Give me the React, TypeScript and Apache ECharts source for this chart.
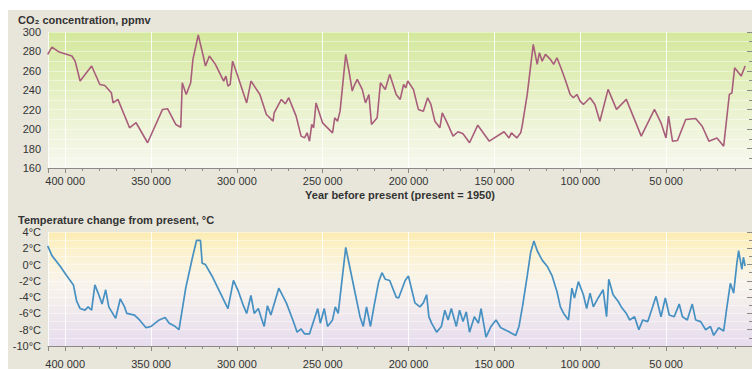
import React, { useEffect, useRef } from "react";
import * as echarts from "echarts";

// Vostok ice-core record, ages in thousands of years before present (present = 1950)
const co2Ka = [
  410.2, 407.7, 403.9, 396.1, 394.2, 391.3, 384.6, 379.8, 376.9, 373.1, 372.1, 369.3,
  362.5, 358.7, 352.0, 343.3, 340.4, 335.6, 332.7, 331.8, 329.5, 326.9, 325.6, 322.5,
  319.8, 318.3, 316.0, 312.5, 307.7, 306.4, 305.2, 303.9, 302.5, 299.5, 294.3, 291.8,
  286.6, 282.8, 278.9, 278.3, 274.1, 271.8, 269.8, 265.5, 262.6, 260.6, 259.1, 257.7,
  256.4, 255.3, 253.9, 250.1, 244.3, 243.0, 241.4, 239.9, 236.6, 234.7, 232.8, 231.8,
  229.9, 227.0, 225.1, 223.1, 221.6, 218.3, 216.4, 213.6, 211.0, 207.2, 204.9, 202.9,
  201.6, 200.5, 197.2, 194.3, 191.4, 188.9, 187.0, 184.7, 181.8, 180.4, 178.0, 174.1,
  171.2, 168.3, 164.5, 159.7, 153.0, 144.4, 141.5, 140.1, 137.0, 134.7, 133.7, 130.9,
  127.4, 125.1, 123.8, 122.2, 120.3, 117.4, 115.5, 113.6, 111.3, 108.8, 105.9, 104.0,
  102.0, 100.1, 98.2, 94.3, 91.5, 88.6, 83.8, 78.9, 73.2, 64.5, 56.8, 53.0,
  50.1, 48.6, 46.3, 43.4, 38.6, 32.8, 29.0, 25.1, 20.4, 16.5, 13.2, 11.7,
  10.1, 6.3, 4.0,
];
const co2Ppmv = [
  277, 284.5, 279.7, 275.3, 270, 249.5, 265, 246, 245, 237.5, 227, 230.6,
  201.4, 206.6, 186, 220.3, 221, 204.8, 202, 247.8, 235.7, 247.8, 271.8, 296.9,
  277, 265, 275.3, 266.7, 249.5, 254.6, 244.3, 246, 270, 254.6, 227, 249.5,
  235.7, 215.1, 208.2, 216.8, 230.6, 226.1, 232.3, 213.4, 192.8, 191, 196.2, 187.6,
  204.8, 201.4, 227, 206.5, 196.2, 211.7, 208.2, 218.5, 277, 259.8, 239.2, 244.3,
  251.2, 240.9, 227, 235.7, 204.8, 211.7, 247.8, 240.9, 256.4, 235.7, 230.6, 246,
  242.6, 249.5, 240.9, 220.3, 218.5, 232.3, 225.4, 208.2, 201.4, 216.8, 208.2, 192.8,
  197.3, 195.2, 186, 204.1, 187.6, 197.3, 191, 196.2, 191, 196.2, 204.8, 235.7,
  287.2, 266.7, 278.7, 270, 277, 271.8, 266.7, 273.5, 263.2, 251.2, 235.7, 232.3,
  235.7, 228.8, 225.4, 232.3, 225.4, 208.2, 240.9, 220.3, 230.6, 192.8, 220.3, 206.5,
  191, 213.4, 187.6, 188.3, 210, 211, 203, 187.6, 191, 182.5, 235.7, 237.4,
  263.2, 254.6, 265,
];

const tempKa = [
  410.2, 407.7, 402.9, 399.0, 395.2, 393.3, 391.3, 388.5, 386.6, 384.6, 382.7, 380.8,
  378.5, 376.4, 374.6, 370.6, 367.9, 365.4, 364.1, 359.6, 356.7, 352.9, 350.0, 345.2,
  341.8, 339.4, 336.6, 333.7, 329.8, 326.0, 323.5, 321.2, 320.2, 318.3, 314.5, 309.6,
  305.2, 302.0, 299.1, 296.2, 294.3, 291.8, 289.9, 287.5, 286.0, 284.1, 282.2, 280.2,
  275.6, 271.2, 267.4, 264.9, 262.6, 260.6, 257.7, 252.9, 251.4, 249.1, 247.2, 244.3,
  242.7, 241.0, 236.6, 232.8, 228.3, 226.4, 224.5, 222.2, 219.9, 217.4, 215.5, 213.6,
  211.0, 207.2, 205.8, 202.0, 200.1, 196.3, 193.4, 191.4, 189.5, 188.2, 186.6, 183.7,
  180.9, 178.9, 177.0, 175.1, 172.2, 170.3, 168.3, 166.4, 164.5, 161.7, 159.3, 157.8,
  154.9, 152.0, 149.1, 146.3, 142.4, 137.6, 135.7, 133.7, 130.9, 128.9, 127.0, 125.1,
  122.2, 119.3, 116.4, 113.6, 111.6, 109.7, 106.9, 104.9, 103.4, 101.1, 98.2, 96.3,
  94.3, 92.4, 89.6, 86.7, 84.7, 83.4, 80.9, 78.0, 76.1, 73.2, 71.3, 68.4,
  65.9, 63.6, 60.7, 57.9, 55.9, 53.0, 50.5, 48.2, 45.3, 42.4, 40.5, 37.7,
  34.8, 32.8, 29.9, 27.0, 24.2, 22.3, 19.4, 16.5, 14.6, 12.6, 10.7, 8.8,
  7.8, 5.9, 5.0, 4.0,
];
const tempC = [
  2.3, 1.1, -0.2, -1.4, -2.5, -4.5, -5.4, -5.6, -5.2, -5.6, -2.5, -3.5,
  -4.85, -3.1, -5.2, -6.6, -4.2, -5.2, -6.0, -6.2, -6.8, -7.75, -7.6, -6.8,
  -6.5, -7.2, -7.5, -8.0, -2.9, 0.75, 2.96, 2.96, 0.17, 0.0, -1.4, -3.5,
  -5.4, -1.95, -3.3, -5.05, -6.0, -3.8, -6.0, -5.4, -6.4, -7.6, -5.05, -6.2,
  -2.9, -4.7, -6.8, -8.3, -7.9, -8.5, -8.5, -5.4, -7.2, -5.4, -7.6, -6.8,
  -5.2, -6.0, 2.1, -1.8, -6.4, -7.6, -5.2, -7.6, -4.85, -2.1, -1.0, -1.8,
  -1.95, -4.0, -4.1, -1.95, -1.4, -4.7, -5.2, -4.7, -3.7, -6.4, -7.2, -8.3,
  -7.6, -5.6, -6.8, -5.4, -7.6, -5.6, -7.0, -5.8, -8.3, -6.4, -7.2, -5.4,
  -8.9, -7.6, -6.8, -7.75, -8.15, -8.7, -7.6, -5.2, -1.4, 1.5, 2.9, 1.7,
  0.55, -0.2, -1.4, -3.3, -5.2, -6.0, -6.8, -2.9, -4.1, -2.1, -3.7, -5.4,
  -3.5, -5.2, -4.1, -3.1, -6.4, -1.8, -3.7, -4.5, -5.2, -6.0, -6.8, -6.4,
  -8.0, -6.8, -7.0, -5.2, -3.9, -6.4, -4.1, -6.2, -6.4, -4.85, -6.4, -6.8,
  -4.85, -6.8, -7.0, -8.0, -7.6, -8.7, -7.75, -8.15, -5.2, -2.3, -3.5, 0.17,
  1.7, -0.6, 0.9, -0.2,
];

const FONT = "Liberation Sans, Arial, sans-serif";
const TEXT = "#333333";
const AXIS = "#8a8a86";

const pairs = (xs: number[], ys: number[]) => xs.map((x, i) => [x, ys[i]]);

const yearLabel = (v: number) => (v === 0 ? "" : `${v} 000`);

function xAxisFor(gridIndex: number, labelMargin: number, withName: boolean) {
  return {
    type: "value",
    gridIndex,
    position: "bottom",
    min: 0,
    max: 410,
    interval: 50,
    inverse: true,
    axisLine: { onZero: false, lineStyle: { color: AXIS, width: 1 } },
    axisTick: { show: true, length: 5, lineStyle: { color: AXIS } },
    minorTick: { show: true, splitNumber: 5, length: 3, lineStyle: { color: AXIS } },
    axisLabel: {
      formatter: yearLabel,
      margin: labelMargin,
      color: TEXT,
      fontSize: 11,
      fontFamily: FONT,
      showMinLabel: false,
      showMaxLabel: false,
    },
    splitLine: { show: true, lineStyle: { color: "rgba(255,255,255,0.85)", width: 1 } },
    name: withName ? "Year before present (present = 1950)" : "",
    nameLocation: "middle",
    nameGap: 21,
    nameTextStyle: { color: TEXT, fontSize: 11, fontWeight: "bold", fontFamily: FONT },
  };
}

function yAxisFor(gridIndex: number, min: number, max: number, interval: number, fmt: (v: number) => string) {
  return {
    type: "value",
    gridIndex,
    min,
    max,
    interval,
    axisLine: { show: true, lineStyle: { color: AXIS, width: 1 } },
    axisTick: { show: true, length: 5, lineStyle: { color: AXIS } },
    minorTick: { show: true, splitNumber: 2, length: 3, lineStyle: { color: AXIS } },
    axisLabel: { formatter: fmt, margin: 7, color: TEXT, fontSize: 11, fontFamily: FONT },
    splitLine: { show: true, lineStyle: { color: "rgba(255,255,255,0.45)", width: 1 } },
    minorSplitLine: { show: true, lineStyle: { color: "rgba(255,255,255,0.45)", width: 1 } },
  };
}

export default function App() {
  const ref = useRef<HTMLDivElement>(null);

  useEffect(() => {
    if (!ref.current) return;
    const chart = echarts.init(ref.current, null, { renderer: "svg" });

    const co2Bg = new echarts.graphic.LinearGradient(0, 0, 0, 1, [
      { offset: 0, color: "#d3e89c" },
      { offset: 0.5, color: "#e8f1c9" },
      { offset: 1, color: "#f7f8ef" },
    ]);
    const tempBg = new echarts.graphic.LinearGradient(0, 0, 0, 1, [
      { offset: 0, color: "#fcecb2" },
      { offset: 0.18, color: "#fcf2d0" },
      { offset: 0.45, color: "#f8f4ec" },
      { offset: 1, color: "#e6dcee" },
    ]);

    chart.setOption({
      animation: false,
      backgroundColor: "#e8e6da",
      title: [
        {
          text: "CO₂ concentration, ppmv",
          left: 10,
          top: 4,
          padding: 0,
          textStyle: { color: TEXT, fontSize: 11, fontWeight: "bold", fontFamily: FONT },
        },
        {
          text: "Temperature change from present, °C",
          left: 10,
          top: 204,
          padding: 0,
          textStyle: { color: TEXT, fontSize: 11, fontWeight: "bold", fontFamily: FONT },
        },
      ],
      grid: [
        { left: 40, top: 22, width: 711, height: 136, show: true, backgroundColor: co2Bg, borderWidth: 0 },
        { left: 40, top: 222, width: 711, height: 121, show: true, backgroundColor: tempBg, borderWidth: 0 },
      ],
      xAxis: [xAxisFor(0, 7, true), xAxisFor(1, 12, false)],
      yAxis: [
        yAxisFor(0, 160, 300, 20, (v) => `${v}`),
        yAxisFor(1, -10, 4, 2, (v) => `${v}°C`),
      ],
      series: [
        {
          type: "line",
          xAxisIndex: 0,
          yAxisIndex: 0,
          data: pairs(co2Ka, co2Ppmv),
          showSymbol: false,
          lineStyle: { color: "#a85e7a", width: 1.6 },
        },
        {
          type: "line",
          xAxisIndex: 1,
          yAxisIndex: 1,
          data: pairs(tempKa, tempC),
          showSymbol: false,
          lineStyle: { color: "#4690c2", width: 1.7 },
        },
      ],
    });

    return () => chart.dispose();
  }, []);

  return (
    <div
      ref={ref}
      style={{ position: "absolute", left: 8, top: 10, width: 744, height: 359 }}
    />
  );
}
